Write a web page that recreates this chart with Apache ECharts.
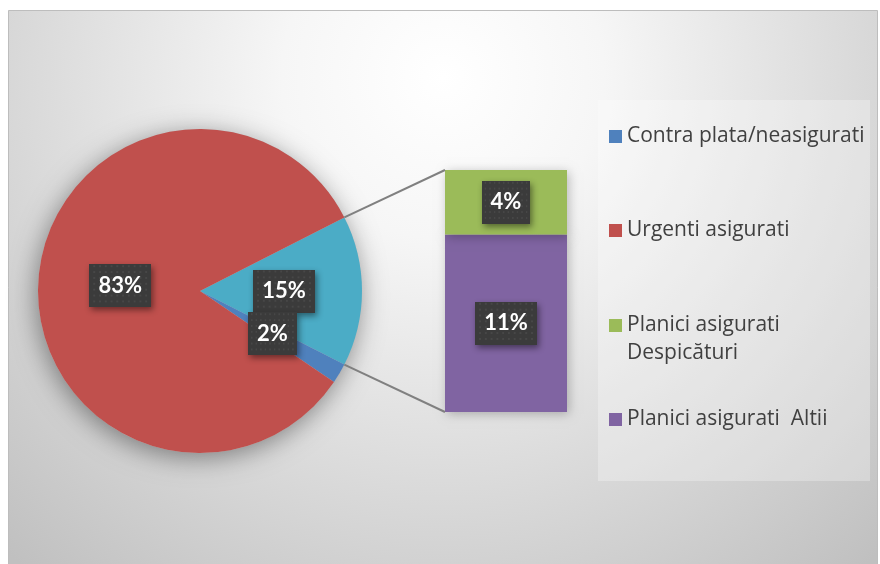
<!DOCTYPE html>
<html>
<head>
<meta charset="utf-8">
<style>
  html, body { margin: 0; padding: 0; background: #ffffff; }
  #chart { width: 880px; height: 564px; }
</style>
<script src="https://cdn.jsdelivr.net/npm/echarts@6/dist/echarts.min.js"></script>
</head>
<body>
<div id="chart"></div>
<script>
// Pie slices (percent) — the "other" slice is split out into the bar on the right
const pieNames = ['Alte', 'Contra plata/neasigurati', 'Urgenti asigurati'];
const pieValues = [15, 2, 83];
const pieColors = ['#4BACC6', '#4F81BD', '#C0504D'];

// Breakdown of the "other" slice, stacked bottom to top
const barNames = ['Planici asigurati  Altii', 'Planici asigurati Despicături'];
const barValues = [11, 4];
const barColors = ['#8064A2', '#9BBB59'];

// Legend entries in display order
const legendNames = ['Contra plata/neasigurati', 'Urgenti asigurati', 'Planici asigurati Despicături', 'Planici asigurati  Altii'];

const LABEL_FONT = 'Lato, "Open Sans", sans-serif';
const LEGEND_FONT = '"Open Sans", Lato, sans-serif';

// dotted dark texture behind the data labels
function makeTexture() {
  const c = document.createElement('canvas');
  c.width = 64; c.height = 44;
  const g = c.getContext('2d');
  g.fillStyle = '#3b3b3b';
  g.fillRect(0, 0, c.width, c.height);
  g.fillStyle = '#4c4c4c';
  for (let y = 2; y < c.height; y += 6) {
    for (let x = 2; x < c.width; x += 6) {
      g.beginPath();
      g.arc(x + ((y / 6) % 2 ? 3 : 0), y, 1, 0, Math.PI * 2);
      g.fill();
    }
  }
  return c;
}
const texture = makeTexture();

const labelStyle = {
  show: true,
  position: 'inside',
  formatter: '{c}%',
  color: '#ffffff',
  fontFamily: LABEL_FONT,
  fontWeight: 'bold',
  fontSize: 22,
  backgroundColor: { image: texture },
  padding: [11, 9, 10, 9],
  shadowColor: 'rgba(0,0,0,0.45)',
  shadowBlur: 6,
  shadowOffsetX: 2,
  shadowOffsetY: 3
};

const pieCenter = [200, 291];
const pieRadius = 162;
const otherShare = pieValues[0] / pieValues.reduce((a, b) => a + b, 0);
const startAngle = otherShare * 360 / 2;

const gridBox = { left: 445, top: 170, width: 122, height: 242 };
const barTotal = barValues.reduce((a, b) => a + b, 0);

const legendText = { color: '#404040', fontSize: 21, fontFamily: LEGEND_FONT };

function legendAt(name, top, extra) {
  return Object.assign({
    data: [name],
    left: 604,
    top: top,
    orient: 'vertical',
    icon: 'rect',
    itemWidth: 13,
    itemHeight: 13,
    itemGap: 0,
    selectedMode: false,
    textStyle: legendText
  }, extra || {});
}

const chart = echarts.init(document.getElementById('chart'), null, { renderer: 'canvas' });

const option = {
  animation: false,
  graphic: [
    {
      type: 'rect',
      z: -10,
      silent: true,
      shape: { x: 8.5, y: 10.5, width: 869, height: 560 },
      style: {
        fill: new echarts.graphic.RadialGradient(0.5, 0.12, 1.15, [
          { offset: 0, color: '#ffffff' },
          { offset: 0.25, color: '#f6f6f6' },
          { offset: 1, color: '#c0c0c0' }
        ]),
        stroke: '#bdbdbd',
        lineWidth: 1
      }
    },
    {
      type: 'rect',
      z: -9,
      silent: true,
      shape: { x: 598, y: 100, width: 272, height: 381 },
      style: { fill: 'rgba(255,255,255,0.28)' }
    },
    {
      // second line of the third legend entry
      type: 'text',
      z: 10,
      silent: true,
      style: {
        text: 'Despicături',
        x: 627,
        y: 353,
        verticalAlign: 'middle',
        fill: legendText.color,
        font: legendText.fontSize + 'px ' + LEGEND_FONT
      }
    }
  ],
  legend: [
    legendAt(legendNames[0], 121),
    legendAt(legendNames[1], 215),
    legendAt(legendNames[2], 310, {
      formatter: function () { return 'Planici asigurati'; }
    }),
    legendAt(legendNames[3], 404)
  ],
  grid: Object.assign({ containLabel: false }, gridBox),
  xAxis: { type: 'category', data: ['Alte'], show: false },
  yAxis: { type: 'value', min: 0, max: barTotal, show: false },
  series: [
    {
      // soft drop shadow under the whole pie
      type: 'pie',
      silent: true,
      center: pieCenter,
      radius: pieRadius,
      label: { show: false },
      labelLine: { show: false },
      data: [{ name: '', value: pieValues.reduce((a, b) => a + b, 0) }],
      itemStyle: {
        color: '#c0c0c0',
        shadowBlur: 26,
        shadowColor: 'rgba(0,0,0,0.42)',
        shadowOffsetX: -2,
        shadowOffsetY: 5
      },
      z: 1
    },
    {
      type: 'pie',
      center: pieCenter,
      radius: pieRadius,
      startAngle: startAngle,
      clockwise: true,
      avoidLabelOverlap: false,
      label: labelStyle,
      labelLine: { show: false },
      labelLayout: { hideOverlap: false },
      emphasis: { disabled: true },
      data: pieNames.map((n, i) => ({
        name: n,
        value: pieValues[i],
        itemStyle: { color: pieColors[i] },
        label: i === 2 ? { offset: [4, 0] } : undefined
      })),
      z: 2
    },
    ...barNames.map((n, i) => ({
      type: 'bar',
      name: n,
      stack: 'alte',
      data: [barValues[i]],
      barWidth: '100%',
      itemStyle: {
        color: barColors[i],
        shadowBlur: 10,
        shadowColor: 'rgba(0,0,0,0.25)',
        shadowOffsetX: 2,
        shadowOffsetY: 2
      },
      label: labelStyle,
      labelLayout: { hideOverlap: false },
      emphasis: { disabled: true },
      z: 2
    }))
  ]
};

chart.setOption(option);

// connector lines from the edges of the "other" slice to the bar corners
const rad = startAngle * Math.PI / 180;
const p1 = [pieCenter[0] + pieRadius * Math.cos(rad), pieCenter[1] - pieRadius * Math.sin(rad)];
const p2 = [pieCenter[0] + pieRadius * Math.cos(rad), pieCenter[1] + pieRadius * Math.sin(rad)];
const barTopY = chart.convertToPixel({ yAxisIndex: 0 }, barTotal);
const barBotY = chart.convertToPixel({ yAxisIndex: 0 }, 0);
const barLeftX = gridBox.left;

chart.setOption({
  graphic: option.graphic.concat([
    {
      type: 'polyline', z: 5, silent: true,
      shape: { points: [p1, [barLeftX, barTopY]] },
      style: { stroke: '#808080', lineWidth: 2 }
    },
    {
      type: 'polyline', z: 5, silent: true,
      shape: { points: [p2, [barLeftX, barBotY]] },
      style: { stroke: '#808080', lineWidth: 2 }
    }
  ])
});
</script>
</body>
</html>
